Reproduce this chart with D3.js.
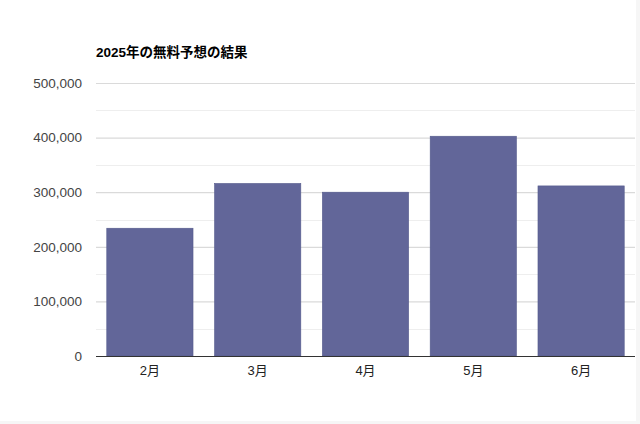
<!DOCTYPE html>
<html>
<head>
<meta charset="utf-8">
<script src="https://cdn.jsdelivr.net/npm/d3@7"></script>
<style>
  html, body { margin: 0; padding: 0; background: #f6f6f6; }
  svg { display: block; }
</style>
</head>
<body>
<svg id="chart" width="640" height="424"></svg>
<script>
const title = "2025年の無料予想の結果";
const categories = ["2月", "3月", "4月", "5月", "6月"];
const values = [234000, 316000, 300000, 402500, 311500];
const yTicks = [0, 100000, 200000, 300000, 400000, 500000];
const yMinorTicks = [50000, 150000, 250000, 350000, 450000];

const svg = d3.select("#chart");
const font = "'Liberation Sans', Arial, 'Noto Sans CJK JP', sans-serif";

svg.append("rect").attr("x", 0).attr("y", 0).attr("width", 636).attr("height", 421).attr("fill", "#ffffff");

const m = { left: 96, right: 5, top: 83, bottom: 68 };
const W = 640, H = 424;

const x = d3.scaleBand().domain(categories).range([m.left, W - m.right]).paddingInner(0.2).paddingOuter(0.1);
const y = d3.scaleLinear().domain([0, 500000]).range([H - m.bottom, m.top]);

// minor gridlines
svg.append("g").selectAll("line").data(yMinorTicks).join("line")
  .attr("x1", m.left).attr("x2", W - m.right)
  .attr("y1", d => Math.round(y(d)) + 0.5).attr("y2", d => Math.round(y(d)) + 0.5)
  .attr("stroke", "#eeeeee").attr("stroke-width", 1);

// y axis via d3.axisLeft
const yAxis = d3.axisLeft(y).tickValues(yTicks).tickSize(-(W - m.left - m.right))
  .tickFormat(d3.format(",")).tickPadding(14);
const gy = svg.append("g").attr("transform", `translate(${m.left},0)`).call(yAxis);
gy.select(".domain").remove();
gy.selectAll(".tick line").attr("stroke", "#dadada").attr("stroke-width", 1.2);
gy.selectAll(".tick text").attr("fill", "#444").attr("font-size", "13.5px").attr("font-family", font);

// bars
svg.append("g").selectAll("rect").data(values).join("rect")
  .attr("x", (d, i) => x(categories[i]))
  .attr("width", x.bandwidth())
  .attr("y", d => y(d))
  .attr("height", d => y(0) - y(d))
  .attr("fill", "#626699")
  .attr("stroke", "#555a8c").attr("stroke-width", 0.6);

// x axis
const xAxis = d3.axisBottom(x).tickSize(0).tickPadding(10);
const gx = svg.append("g").attr("transform", `translate(0,${y(0)})`).call(xAxis);
gx.select(".domain").attr("stroke", "#333").attr("stroke-width", 1.2).attr("d", `M${m.left},0.5H${W - m.right}`);
gx.selectAll(".tick text").attr("fill", "#222").attr("font-size", "13px").attr("font-family", font);

// title
svg.append("text").attr("x", 96).attr("y", 57).text(title)
  .attr("font-family", font).attr("font-weight", "bold").attr("font-size", "13.5px").attr("fill", "#000");
</script>
</body>
</html>
